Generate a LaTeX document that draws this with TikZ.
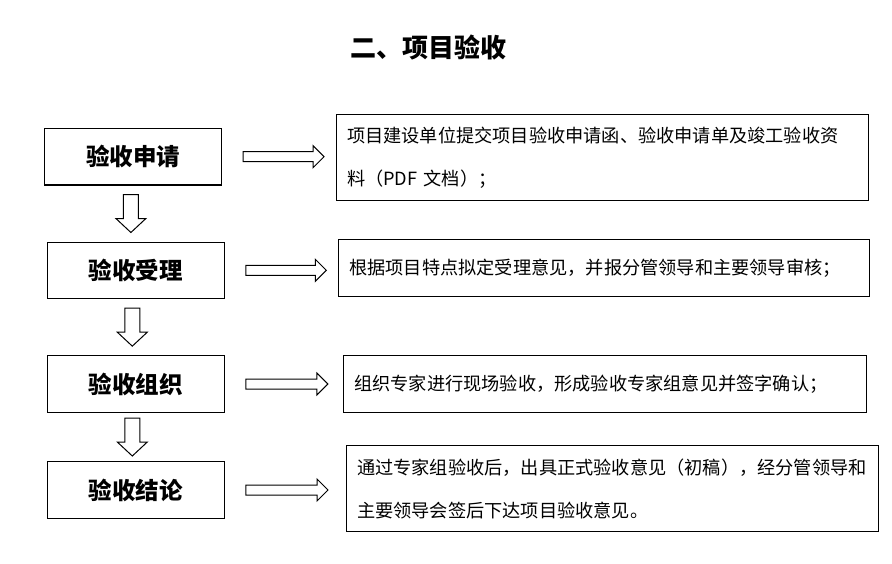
\documentclass[tikz,border=0pt]{standalone}
\usepackage{fontspec}
\setmainfont{Noto Sans CJK SC}
\usetikzlibrary{calc}

\tikzset{
  stage/.style={draw, line width=1.1pt, minimum width=177pt, minimum height=56.5pt,
    inner sep=0pt, font=\fontsize{23.5}{28}\selectfont\bfseries},
  note/.style={draw, line width=1.1pt, anchor=north west, inner xsep=10.5pt,
    inner ysep=0pt, align=left, font=\fontsize{18.2}{43}\selectfont},
  hollow/.style={draw, line width=1pt, fill=white, line join=miter}
}

% fat hollow arrow to the right, tip #1 pt before the target box
\newcommand\pushright[3][12]{%
  \draw[hollow] let \p1=($(#2.east)+(21,0)$), \p2=($(#3.west)+(-#1,0)$) in
    (\x1,\y1+5) -- (\x2-11,\y1+5) -- (\x2-11,\y1+11) -- (\x2,\y1)
    -- (\x2-11,\y1-11) -- (\x2-11,\y1-5) -- (\x1,\y1-5) -- cycle;}
% fat hollow arrow downwards, centred in the gap
\newcommand\pushdown[2]{%
  \draw[hollow] let \p1=($(#1.south)!0.5!(#2.north)+(-3.5,0)$) in
    (\x1-7.5,\y1+19) -- (\x1+7.5,\y1+19) -- (\x1+7.5,\y1-5) -- (\x1+15,\y1-5)
    -- (\x1,\y1-19) -- (\x1-15,\y1-5) -- (\x1-7.5,\y1-5) -- cycle;}

\begin{document}
\begin{tikzpicture}[x=1pt,y=-1pt]
\useasboundingbox (0,0) rectangle (892,563);

\node[font=\fontsize{26}{30}\selectfont\bfseries] (title) at (428,47) {二、项目验收};

\node[stage] (apply) at (133,156.7) {验收申请};
\node[stage] (accept) at (135.8,270.3) {验收受理};
\node[stage] (organize) at (135.8,384) {验收组织};
\node[stage] (conclude) at (135.8,490) {验收结论};

\node[note, text width=511pt, minimum height=86.5pt] (d1) at (336,113.5)
  {项目建设单位提交项目验收申请函、验收申请单及竣工验收资\\料（PDF 文档）；};
\node[note, text width=510pt, minimum height=56.7pt] (d2) at (338.3,239.3)
  {根据项目特点拟定受理意见，并报分管领导和主要领导审核；};
\node[note, text width=502pt, minimum height=56.7pt] (d3) at (343.3,355)
  {组织专家进行现场验收，形成验收专家组意见并签字确认；};
\node[note, text width=511pt, minimum height=86pt] (d4) at (346,445)
  {通过专家组验收后，出具正式验收意见（初稿），经分管领导和\\主要领导会签后下达项目验收意见。};

\pushright{apply}{d1}
\pushright{accept}{d2}
\pushright[15.5]{organize}{d3}
\pushright[18]{conclude}{d4}

\pushdown{apply}{accept}
\pushdown{accept}{organize}
\pushdown{organize}{conclude}
\end{tikzpicture}
\end{document}
